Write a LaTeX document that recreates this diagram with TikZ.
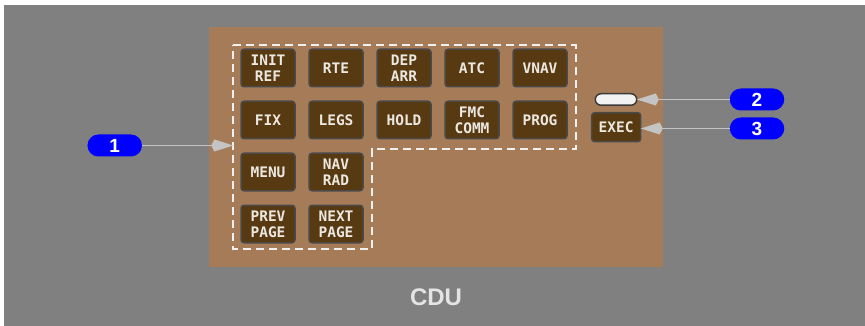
\documentclass[tikz,border=0pt]{standalone}
\usepackage{fontspec}
\usetikzlibrary{arrows.meta,positioning}
\newfontfamily\keyfont{DejaVu Sans Mono}
\newfontfamily\labelfont{Liberation Sans}
\definecolor{BgGray}{HTML}{808080}
\definecolor{PanelBrown}{HTML}{A67C58}
\definecolor{KeyBrown}{HTML}{573A12}
\definecolor{KeyEdge}{HTML}{4A4A4A}
\definecolor{KeyText}{HTML}{ECE8E0}
\definecolor{CallBlue}{HTML}{0000FF}
\definecolor{ArrowGray}{HTML}{C4C4C4}
\definecolor{LampWhite}{HTML}{F2F2F2}
\definecolor{LampEdge}{HTML}{3C3C3C}
\definecolor{DashWhite}{HTML}{F0F0F0}
\definecolor{CduText}{HTML}{E4E4E4}

\begin{document}
\begin{tikzpicture}[x=1pt, y=-1pt,
      key/.style={rounded corners=3pt, minimum width=54pt, minimum height=37.5pt, inner sep=0pt, outer sep=0pt,
                  fill=KeyBrown, draw=KeyEdge, line width=1.5pt, text=KeyText, align=center,
                  font=\keyfont\bfseries\fontsize{14.5}{15.7}\selectfont},
      lamp/.style={rounded corners=5.8pt, minimum width=41.5pt, minimum height=11.5pt, inner sep=0pt, outer sep=0pt,
                   fill=LampWhite, draw=LampEdge, line width=1.5pt},
      callout/.style={rounded corners=11pt, minimum width=54.5pt, minimum height=22pt, inner sep=0pt,
                      fill=CallBlue, text=white, font=\labelfont\bfseries\fontsize{19}{19}\selectfont},
      callarrow/.style={draw=ArrowGray, line width=1.8pt, -{Kite[length=22pt, width=12pt, inset=3pt]}},
      node distance=14.5pt and 14pt
    ]
      \fill[white] (0,0) rectangle (865,326);
      \fill[BgGray] (4,5) rectangle (865,326);
      \fill[PanelBrown] (209,27) rectangle (663,267);

      \node[key] (initref) at (268,68) {INIT\\REF};
      \node[key, right=of initref] (rte)  {RTE};
      \node[key, right=of rte]     (deparr) {DEP\\ARR};
      \node[key, right=of deparr]  (atc)  {ATC};
      \node[key, right=of atc]     (vnav) {VNAV};

      \node[key, below=of initref] (fix)  {FIX};
      \node[key, right=of fix]     (legs) {LEGS};
      \node[key, right=of legs]    (hold) {HOLD};
      \node[key, right=of hold]    (fmccomm) {FMC\\COMM};
      \node[key, right=of fmccomm] (prog) {PROG};

      \node[key, below=of fix]     (menu) {MENU};
      \node[key, right=of menu]    (navrad) {NAV\\RAD};
      \node[key, below=of menu]    (prevpage) {PREV\\PAGE};
      \node[key, right=of prevpage] (nextpage) {NEXT\\PAGE};

      \draw[DashWhite, line width=1.8pt, dash pattern=on 8pt off 5pt]
        (233.3,45) -- (575.7,45) -- (575.7,149.3) -- (371.7,149.3)
        -- (371.7,249.3) -- (233.3,249.3) -- cycle;
      \coordinate (keysleft) at (233.3,145.5);

      \node[lamp] (msglamp) at (616,99.5) {};
      \node[key, minimum width=49pt, minimum height=29pt] (exec) at (616.2,127.2) {EXEC};

      \node[callout] (c1) at (114.7,145.5) {1};
      \node[callout] (c2) at (757,99.5) {2};
      \node[callout] (c3) at (757,128.5) {3};

      \draw[callarrow] (c1) -- (keysleft);
      \draw[callarrow] (c2.west) -- (c2.west -| msglamp.east);
      \draw[callarrow] (c3.west) -- (c3.west -| exec.east);

      \node[font=\labelfont\bfseries\fontsize{24}{24}\selectfont, text=CduText] (cdu) at (436,297) {CDU};
    \end{tikzpicture}
\end{document}
